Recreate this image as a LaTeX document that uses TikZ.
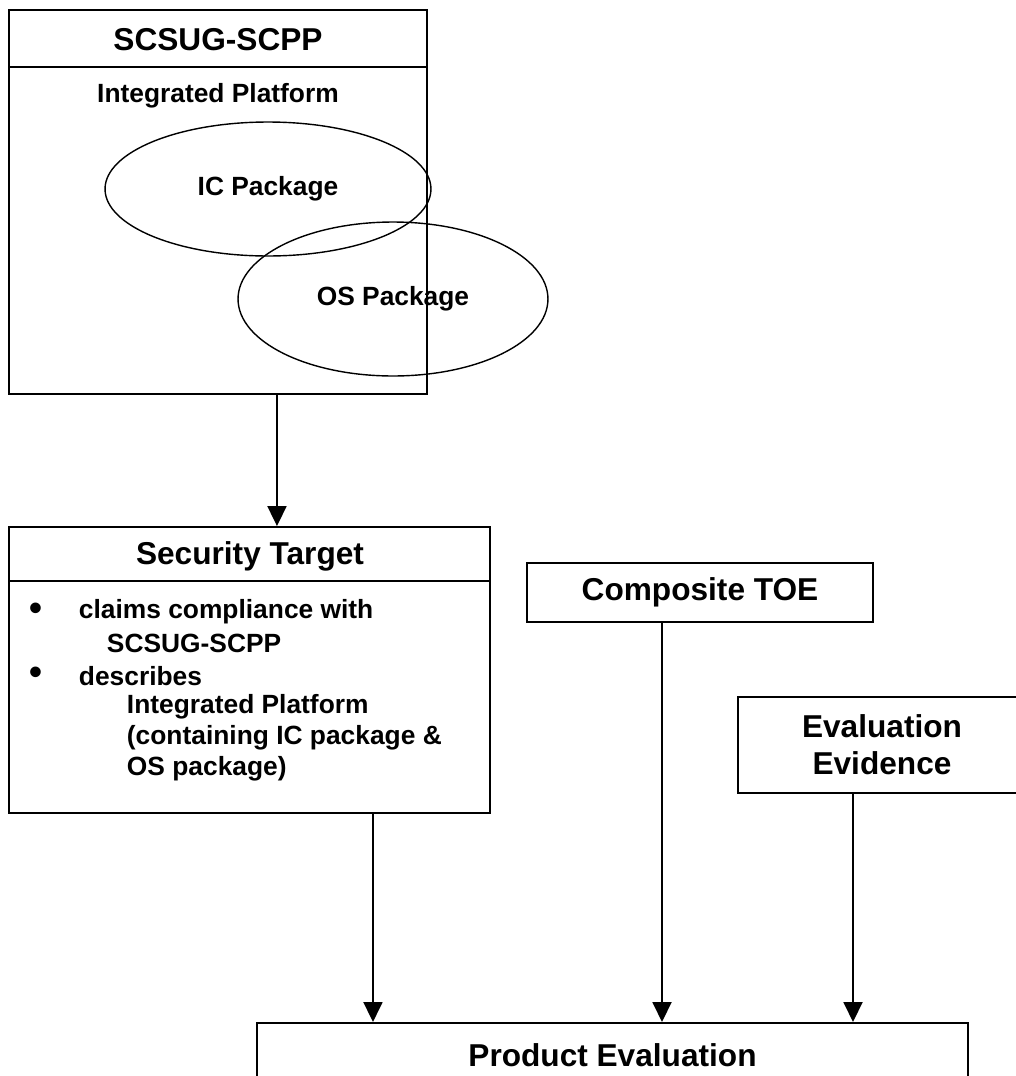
\documentclass[tikz,border=0pt]{standalone}
\usepackage{fontspec}
\setmainfont{Liberation Sans}
\usetikzlibrary{shapes.geometric,arrows.meta,positioning,calc}

\begin{document}
\begin{tikzpicture}[x=0.02cm, y=-0.02cm, line width=1.1pt,
  every node/.style={font=\bfseries\fontsize{15}{18}\selectfont},
  box/.style={draw, rectangle, inner sep=0pt},
  oval/.style={draw, ellipse, inner sep=0pt, line width=0.8pt},
  head/.style={font=\bfseries\fontsize{18}{21}\selectfont},
  txt/.style={anchor=west, inner sep=0pt},
  dot/.style={anchor=west, inner sep=0pt, font=\bfseries\fontsize{21}{21}\selectfont},
  arr/.style={-{Triangle[length=0.4cm, width=0.38cm]}}]
  \clip (0,0) rectangle (1016,1076);
  % SCSUG-SCPP
  \node[box, minimum width=8.36cm, minimum height=7.68cm] (pp) at (218,202) {};
  \draw ([yshift=-1.16cm]pp.north west) -- ([yshift=-1.16cm]pp.north east);
  \node[head] (ppt) at (218,40) {SCSUG-SCPP};
  \node (ipf) at (218,96) {Integrated Platform};
  \node[oval, minimum width=6.52cm, minimum height=2.68cm] (ic) at (268,189) {IC Package};
  \node[oval, minimum width=6.2cm, minimum height=3.08cm] (os) at (393,299) {OS Package};
  % Security Target
  \node[box, minimum width=9.62cm, minimum height=5.72cm] (st) at (249.5,670) {};
  \draw ([yshift=-1.1cm]st.north west) -- ([yshift=-1.1cm]st.north east);
  \node[head] (stt) at (250,556) {Security Target};
  \node[dot] (b1) at (29,612) {\textbullet};
  \node[txt] (l1) at (78,612) {claims compliance with};
  \node[txt] (l2) at (106,643) {SCSUG-SCPP};
  \node[dot] (b2) at (29,676) {\textbullet};
  \node[txt] (l3) at (78,676) {describes};
  \node[txt] (l4) at (126,707) {Integrated Platform};
  \node[txt] (l5) at (126,738) {(containing IC package \&};
  \node[txt] (l6) at (126,769) {OS package)};
  % Composite TOE, Evaluation Evidence
  \node[box, head, minimum width=6.92cm, minimum height=1.18cm] (toe) at (700,592.5) {Composite TOE};
  \node[box, head, minimum width=5.76cm, minimum height=1.92cm, align=center] (eve) at (882,745) {Evaluation\\Evidence};
  % Product Evaluation
  \node[box, minimum width=14.22cm, minimum height=3cm, anchor=north] (pe) at (612.5,1022) {};
  \node[head] (pet) at (612.5,1055) {Product Evaluation};
  % arrows
  \draw[arr] ([xshift=1.18cm]pp.south) -- ([xshift=1.18cm]pp.south |- st.north);
  \draw[arr] ([xshift=2.47cm]st.south) -- ([xshift=2.47cm]st.south |- pe.north);
  \draw[arr] ([xshift=-0.76cm]toe.south) -- ([xshift=-0.76cm]toe.south |- pe.north);
  \draw[arr] ([xshift=-0.58cm]eve.south) -- ([xshift=-0.58cm]eve.south |- pe.north);
\end{tikzpicture}
\end{document}
